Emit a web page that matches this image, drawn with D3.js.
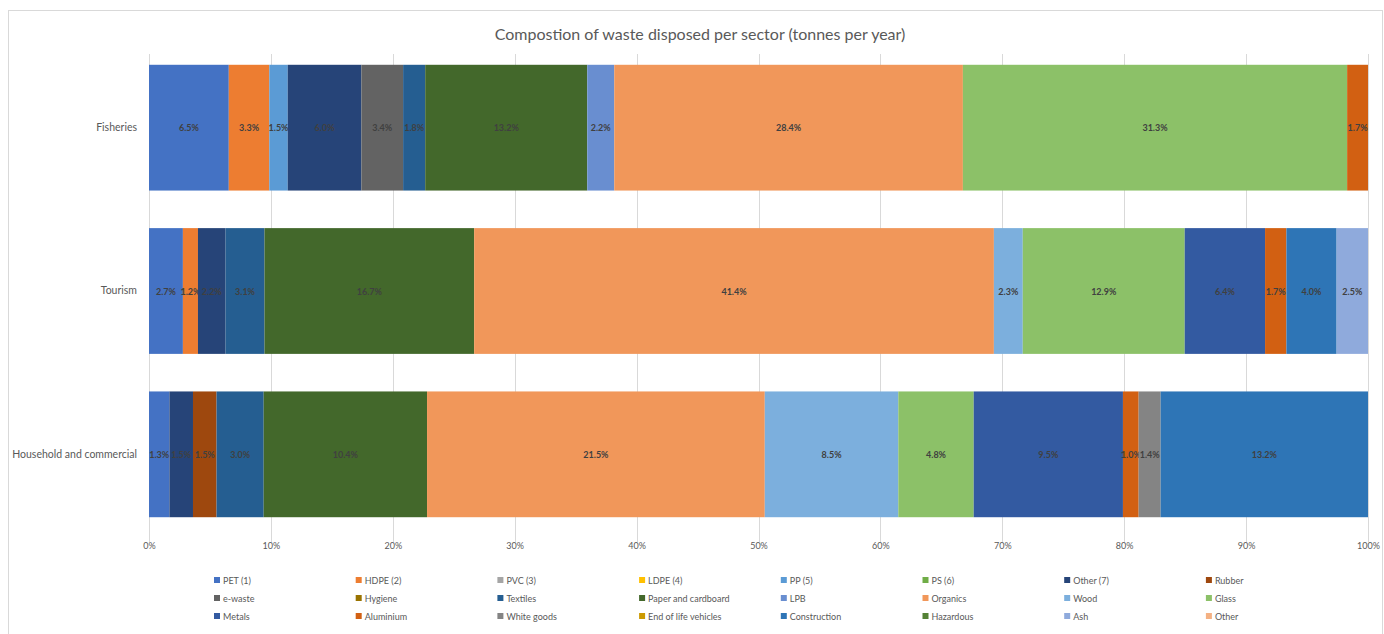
<!DOCTYPE html>
<html>
<head>
<meta charset="utf-8">
<script src="https://cdn.jsdelivr.net/npm/d3@7"></script>
<style>
  html, body { margin: 0; padding: 0; background: #ffffff; }
  svg { display: block; font-family: Lato, "Open Sans", "Liberation Sans", sans-serif; }
</style>
</head>
<body>
<svg id="chart" width="1384" height="634"></svg>
<script>
// Sectors (top to bottom)
const sectors = ["Fisheries", "Tourism", "Household and commercial"];

// Waste streams, in legend order
const streams = [
  "PET (1)", "HDPE (2)", "PVC (3)", "LDPE (4)", "PP (5)", "PS (6)", "Other (7)", "Rubber",
  "e-waste", "Hygiene", "Textiles", "Paper and cardboard", "LPB", "Organics", "Wood", "Glass",
  "Metals", "Aluminium", "White goods", "End of life vehicles", "Construction", "Hazardous", "Ash", "Other"
];

const streamColors = [
  "#4472C4", "#ED7D31", "#A5A5A5", "#FFC000", "#5B9BD5", "#70AD47", "#264478", "#9E480E",
  "#636363", "#997300", "#255E91", "#43682B", "#698ED0", "#F1975A", "#7CAFDD", "#8CC168",
  "#335AA1", "#D26012", "#848484", "#CC9A00", "#2E75B6", "#548235", "#8FAADC", "#F4B183"
];

// Share (%) of each stream per sector, same order as streams; 0 = not present
const fisheries = [6.5, 3.3, 0, 0, 1.5, 0, 6.0, 0,
                   3.4, 0, 1.8, 13.2, 2.2, 28.4, 0, 31.3,
                   0, 1.7, 0, 0, 0, 0, 0, 0];
const tourism   = [2.7, 1.2, 0, 0, 0, 0, 2.2, 0,
                   0, 0, 3.1, 16.7, 0, 41.4, 2.3, 12.9,
                   6.4, 1.7, 0, 0, 4.0, 0, 2.5, 0];
const household = [1.3, 0, 0, 0, 0, 0, 1.5, 1.5,
                   0, 0, 3.0, 10.4, 0, 21.5, 8.5, 4.8,
                   9.5, 1.0, 1.4, 0, 13.2, 0, 0, 0];

const xTicks = [0, 0.1, 0.2, 0.3, 0.4, 0.5, 0.6, 0.7, 0.8, 0.9, 1.0];
const title = "Compostion of waste disposed per sector (tonnes per year)";

// Build rows for the stack
const seriesBySector = [fisheries, tourism, household];
const rows = sectors.map((s, i) => {
  const r = { sector: s };
  streams.forEach((k, j) => { r[k] = seriesBySector[i][j]; });
  return r;
});

const svg = d3.select("#chart");
const plot = { left: 149, right: 1368, top: 46, bottom: 536 };

// Chart area border
svg.append("rect")
  .attr("x", 8.5).attr("y", 10.5)
  .attr("width", 1374).attr("height", 640)
  .attr("fill", "#fff").attr("stroke", "#D9D9D9");

const x = d3.scaleLinear().domain([0, 1]).range([plot.left, plot.right]);
const y = d3.scaleBand().domain(sectors).range([plot.top, plot.bottom])
  .paddingInner(0.23).paddingOuter(0.115);
const color = d3.scaleOrdinal().domain(streams).range(streamColors);

// Vertical gridlines
svg.append("g")
  .selectAll("line")
  .data(xTicks)
  .join("line")
  .attr("x1", d => Math.round(x(d)) + 0.5)
  .attr("x2", d => Math.round(x(d)) + 0.5)
  .attr("y1", plot.top + 8)
  .attr("y2", plot.bottom + 6)
  .attr("stroke", "#D9D9D9")
  .attr("stroke-width", 1);

// 100% stacked bars
const stack = d3.stack().keys(streams).offset(d3.stackOffsetExpand);
const layers = stack(rows);

const layerG = svg.append("g")
  .selectAll("g")
  .data(layers)
  .join("g")
  .attr("fill", d => color(d.key));

layerG.selectAll("rect")
  .data(d => d.filter(p => p.data[d.key] > 0).map(p => ({ p, key: d.key })))
  .join("rect")
  .attr("x", d => x(d.p[0]))
  .attr("y", d => y(d.p.data.sector))
  .attr("width", d => x(d.p[1]) - x(d.p[0]))
  .attr("height", y.bandwidth());

// Data labels
layerG.selectAll("text")
  .data(d => d.filter(p => p.data[d.key] > 0).map(p => ({ p, key: d.key })))
  .join("text")
  .attr("x", d => (x(d.p[0]) + x(d.p[1])) / 2)
  .attr("y", d => y(d.p.data.sector) + y.bandwidth() / 2)
  .attr("text-anchor", "middle")
  .attr("dominant-baseline", "central")
  .attr("font-size", 9)
  .attr("font-weight", "bold")
  .attr("fill", "#404040")
  .text(d => d.p.data[d.key].toFixed(1) + "%");

// Category axis labels
const yAxis = d3.axisLeft(y).tickSize(0).tickPadding(12);
svg.append("g")
  .attr("transform", `translate(${plot.left},0)`)
  .call(yAxis)
  .call(g => g.select(".domain").remove())
  .call(g => g.selectAll("text")
    .attr("font-size", 10.5)
    .attr("fill", "#595959")
    .attr("font-family", "Lato, 'Open Sans', sans-serif"));

// Percentage axis
const xAxis = d3.axisBottom(x).tickValues(xTicks).tickSize(0).tickPadding(7)
  .tickFormat(d3.format(".0%"));
svg.append("g")
  .attr("transform", `translate(0,${plot.bottom})`)
  .call(xAxis)
  .call(g => g.select(".domain").remove())
  .call(g => g.selectAll("text")
    .attr("font-size", 9)
    .attr("fill", "#595959")
    .attr("font-family", "Lato, 'Open Sans', sans-serif"));

// Title
svg.append("text")
  .attr("x", 700)
  .attr("y", 40)
  .attr("text-anchor", "middle")
  .attr("font-size", 16)
  .attr("fill", "#595959")
  .text(title);

// Legend: 8 columns x 3 rows
const legX0 = 214, legDX = 141.7, legY0 = 580, legDY = 18;
const leg = svg.append("g")
  .selectAll("g")
  .data(streams)
  .join("g")
  .attr("transform", (d, i) => `translate(${legX0 + (i % 8) * legDX},${legY0 + Math.floor(i / 8) * legDY})`);
leg.append("rect")
  .attr("x", 0).attr("y", -3)
  .attr("width", 6).attr("height", 6)
  .attr("fill", d => color(d));
leg.append("text")
  .attr("x", 9).attr("y", 0)
  .attr("dominant-baseline", "central")
  .attr("font-size", 9)
  .attr("fill", "#595959")
  .text(d => d);
</script>
</body>
</html>
